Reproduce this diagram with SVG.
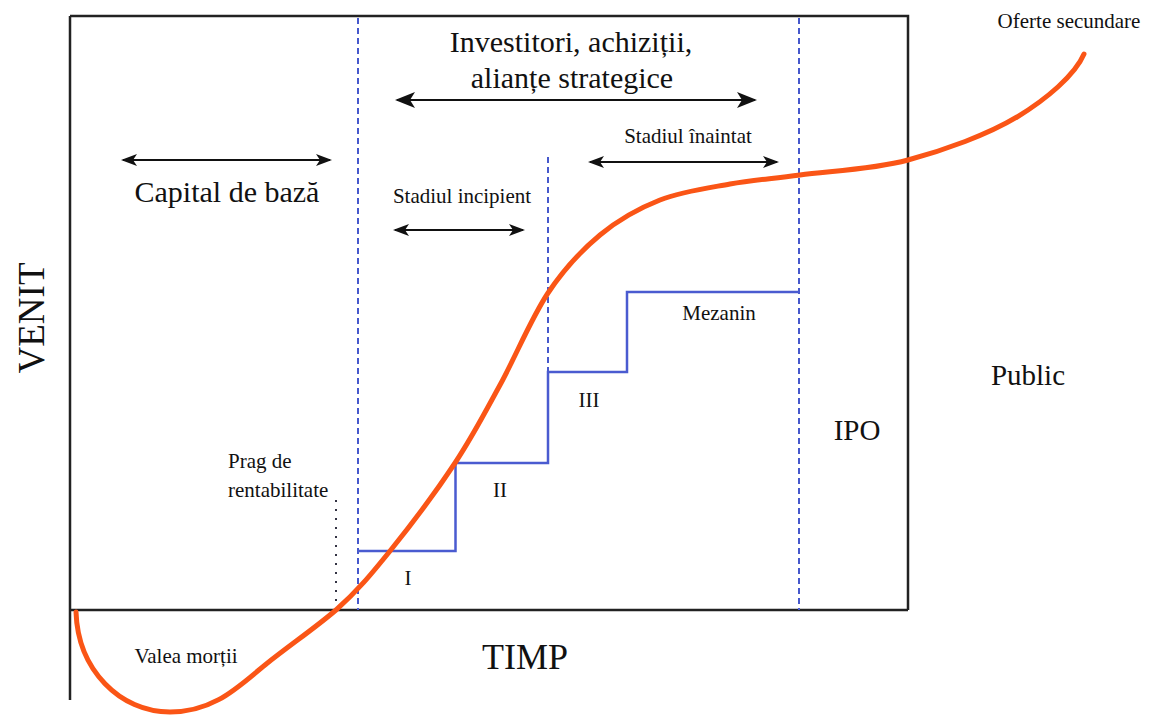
<svg xmlns="http://www.w3.org/2000/svg" width="1149" height="715" viewBox="0 0 1149 715">
<defs>
<style>
.t{font-family:'Liberation Serif','Times New Roman','DejaVu Serif',serif;fill:#111}
.frame{fill:none;stroke:#222;stroke-width:2.5}
.dash{fill:none;stroke:#4658cc;stroke-width:2;stroke-dasharray:6,4}
.stair{fill:none;stroke:#4a5bd0;stroke-width:2.5}
.arr{fill:none;stroke:#111;stroke-width:2}
.curve{fill:none;stroke:#fa5516;stroke-width:5;stroke-linecap:round}
</style>
<marker id="ah" markerUnits="userSpaceOnUse" markerWidth="16" markerHeight="12" refX="14" refY="6" orient="auto-start-reverse"><path d="M0,0 L16,6 L0,12 L4,6 Z" fill="#111"/></marker>
<marker id="ahb" markerUnits="userSpaceOnUse" markerWidth="20" markerHeight="16" refX="18" refY="8" orient="auto-start-reverse"><path d="M0,0 L20,8 L0,16 L5,8 Z" fill="#111"/></marker>
</defs>
<rect width="1149" height="715" fill="#fff"/>
<g id="frame">
<path class="frame" d="M70,16 H908 V610 M70,16 V700 M70,610 H908"/>
</g>
<g id="dividers">
<line class="dash" x1="358" y1="18" x2="358" y2="610"/>
<line class="dash" x1="799" y1="18" x2="799" y2="610"/>
<line class="dash" x1="548" y1="157" x2="548" y2="372"/>
<line x1="336" y1="500" x2="336" y2="610" stroke="#334" stroke-width="2" stroke-dasharray="2,7"/>
</g>
<g id="stairs">
<path class="stair" d="M358,551 H455.5 V463 H548 V372 H627 V292 H799"/>
</g>
<g id="connectors">
<line class="arr" x1="397" y1="100" x2="755" y2="100" stroke-width="3" marker-start="url(#ahb)" marker-end="url(#ahb)"/>
<line class="arr" x1="123" y1="160" x2="330" y2="160" marker-start="url(#ah)" marker-end="url(#ah)"/>
<line class="arr" x1="590" y1="162" x2="777" y2="162" marker-start="url(#ah)" marker-end="url(#ah)"/>
<line class="arr" x1="395" y1="230" x2="523" y2="230" stroke-width="1.5" marker-start="url(#ah)" marker-end="url(#ah)"/>
</g>
<g id="curve">
<path class="curve" d="M76,612 C78,670 120,712 170,712 C215,712 240,685 265,665 C290,645 315,628 336,610 C357.7,590.7 370.2,575.5 390,551 C409.8,526.5 436.7,490.7 455,463 C473.3,435.3 484.5,413.3 500,385 C515.5,356.7 531.3,318 548,293 C564.7,268 581.3,250.5 600,235 C618.7,219.5 638.3,208.5 660,200 C681.7,191.5 706.7,188.2 730,184 C753.3,179.8 770.3,179 800,175 C829.7,171 871.8,169.7 908,160 C944.2,150.3 987.7,134.7 1017,117 C1046.3,99.3 1075,75 1084,54"/>
</g>
<g id="labels" font-family="'Liberation Serif','Times New Roman','DejaVu Serif',serif">
<text class="t" x="571" y="52" font-size="30" text-anchor="middle">Investitori, achiziții,</text>
<text class="t" x="572" y="88" font-size="30" text-anchor="middle">alianțe strategice</text>
<text class="t" x="227" y="202" font-size="30" text-anchor="middle">Capital de bază</text>
<text class="t" x="688" y="143" font-size="21" text-anchor="middle">Stadiul înaintat</text>
<text class="t" x="462" y="203" font-size="21" text-anchor="middle">Stadiul incipient</text>
<text class="t" x="1069" y="28" font-size="21" text-anchor="middle">Oferte secundare</text>
<text class="t" x="719" y="320" font-size="21" text-anchor="middle">Mezanin</text>
<text class="t" x="589" y="407" font-size="21" text-anchor="middle">III</text>
<text class="t" x="500" y="497" font-size="21" text-anchor="middle">II</text>
<text class="t" x="408" y="585" font-size="21" text-anchor="middle">I</text>
<text class="t" x="228" y="468" font-size="21">Prag de</text>
<text class="t" x="228" y="497" font-size="21">rentabilitate</text>
<text class="t" x="186" y="663" font-size="21" text-anchor="middle">Valea morții</text>
<text class="t" x="525" y="669" font-size="36" text-anchor="middle">TIMP</text>
<text class="t" x="857" y="440" font-size="29" text-anchor="middle">IPO</text>
<text class="t" x="1028" y="385" font-size="29" text-anchor="middle">Public</text>
<text class="t" transform="translate(44,318) rotate(-90)" font-size="37" text-anchor="middle">VENIT</text>
</g>
</svg>
